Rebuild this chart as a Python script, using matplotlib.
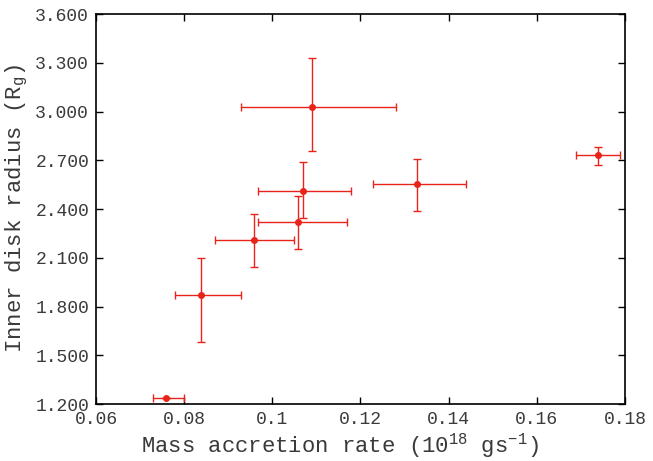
import matplotlib
matplotlib.use("Agg")
import matplotlib.pyplot as plt
from matplotlib.ticker import FormatStrFormatter, FuncFormatter

plt.rcParams['font.family'] = ['Liberation Mono', 'DejaVu Sans Mono']
plt.rcParams['mathtext.fontset'] = 'custom'
plt.rcParams['mathtext.rm'] = 'Liberation Mono'
plt.rcParams['mathtext.it'] = 'Liberation Mono'
plt.rcParams['mathtext.default'] = 'rm'

mdot = [0.0759, 0.0839, 0.0959, 0.1059, 0.1069, 0.1089, 0.1329, 0.1739]
mdot_lo = [0.0729, 0.0779, 0.0869, 0.0968, 0.0968, 0.0929, 0.1229, 0.1689]
mdot_hi = [0.0800, 0.0929, 0.1050, 0.1169, 0.1178, 0.1280, 0.1439, 0.1789]
rin = [1.235, 1.869, 2.209, 2.322, 2.513, 3.030, 2.554, 2.730]
rin_lo = [1.235, 1.582, 2.041, 2.152, 2.343, 2.759, 2.388, 2.671]
rin_hi = [1.235, 2.100, 2.369, 2.480, 2.687, 3.327, 2.708, 2.783]

xerr = [[m - l for m, l in zip(mdot, mdot_lo)], [h - m for m, h in zip(mdot, mdot_hi)]]
yerr = [[r - l for r, l in zip(rin, rin_lo)], [h - r for r, h in zip(rin, rin_hi)]]

fig = plt.figure(figsize=(6.53, 4.61), dpi=100)
ax = fig.add_axes([0.147, 0.1236, 0.81, 0.846])

ax.errorbar(mdot, rin, xerr=xerr, yerr=yerr, fmt='o', color='#e8231a',
            ms=4, elinewidth=1.0, capsize=3, capthick=1.0)

ax.set_xlim(0.06, 0.18)
ax.set_ylim(1.2, 3.6)
ax.set_xticks([0.06, 0.08, 0.10, 0.12, 0.14, 0.16, 0.18])
ax.set_yticks([1.2, 1.5, 1.8, 2.1, 2.4, 2.7, 3.0, 3.3, 3.6])
ax.xaxis.set_major_formatter(FuncFormatter(lambda v, p: ('%.2f' % v).rstrip('0')))
ax.yaxis.set_major_formatter(FormatStrFormatter('%.3f'))
ax.tick_params(direction='in', top=True, right=True, length=5, width=1,
               labelsize=13, colors='black', labelcolor='#3a3a3a', pad=5)
for s in ax.spines.values():
    s.set_linewidth(1.2)

ax.set_xlabel(r'Mass accretion rate (10$^{18}$ gs$^{-1}$)', fontsize=16, color='#3a3a3a')
ax.xaxis.set_label_coords(0.461, -0.07)
ax.set_ylabel(r'Inner disk radius (R$_{g}$)', fontsize=16, color='#3a3a3a')
ax.yaxis.set_label_coords(-0.124, 0.5)

fig.savefig('out.png', dpi=100)
